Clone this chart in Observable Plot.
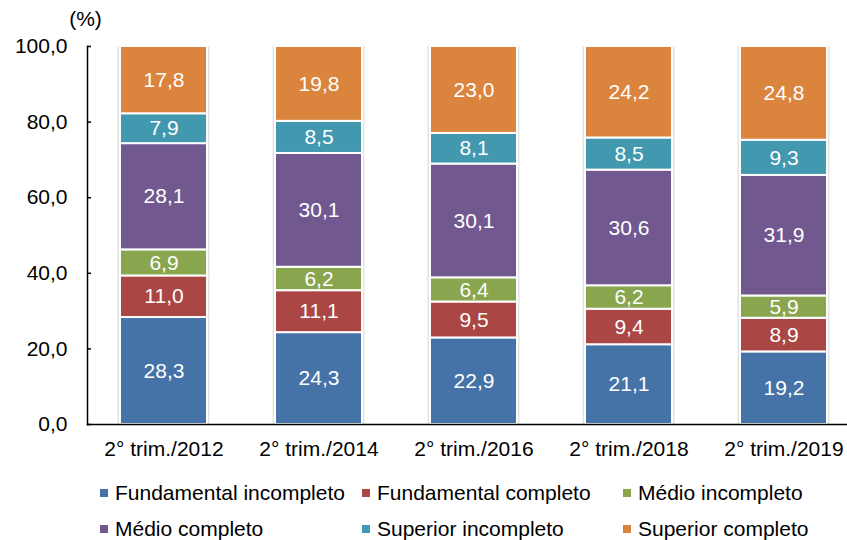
<!DOCTYPE html>
<html>
<head>
<meta charset="utf-8">
<script src="https://cdn.jsdelivr.net/npm/d3@7"></script>
<script src="https://cdn.jsdelivr.net/npm/@observablehq/plot@0.6"></script>
<style>
  body { margin: 0; background: #fff; font-family: "Liberation Sans", Arial, sans-serif; }
  #wrap { position: relative; width: 847px; height: 540px; overflow: hidden; }
  .leg { position: absolute; height: 24px; display: flex; align-items: center; font-size: 21px; color: #000; white-space: nowrap; }
  .sw { width: 8px; height: 8px; margin-right: 7px; }
</style>
</head>
<body>
<div id="wrap"></div>
<script>
const categories = ["2° trim./2012", "2° trim./2014", "2° trim./2016", "2° trim./2018", "2° trim./2019"];
const seriesNames = ["Fundamental incompleto", "Fundamental completo", "Médio incompleto", "Médio completo", "Superior incompleto", "Superior completo"];
const fundIncompleto = [28.3, 24.3, 22.9, 21.1, 19.2];
const fundCompleto = [11.0, 11.1, 9.5, 9.4, 8.9];
const medioIncompleto = [6.9, 6.2, 6.4, 6.2, 5.9];
const medioCompleto = [28.1, 30.1, 30.1, 30.6, 31.9];
const superiorIncompleto = [7.9, 8.5, 8.1, 8.5, 9.3];
const superiorCompleto = [17.8, 19.8, 23.0, 24.2, 24.8];
const colors = ["#4572A7", "#AA4643", "#89A54E", "#71588F", "#4198AF", "#DB843D"];
const yTicks = [0, 20, 40, 60, 80, 100];

const seriesValues = [fundIncompleto, fundCompleto, medioIncompleto, medioCompleto, superiorIncompleto, superiorCompleto];
const data = [];
seriesNames.forEach((s, si) => {
  categories.forEach((c, ci) => data.push({category: c, series: s, value: seriesValues[si][ci]}));
});
const fmt = v => v.toFixed(1).replace(".", ",");

const chart = Plot.plot({
  width: 847,
  height: 470,
  marginLeft: 87,
  marginRight: 0,
  marginTop: 46,
  marginBottom: 46,
  style: { fontFamily: "'Liberation Sans', Arial, sans-serif", fontSize: "21px", color: "#000", background: "transparent" },
  x: { domain: categories, range: [86, 861], paddingInner: 0.44, paddingOuter: 0.22, label: null },
  y: { domain: [0, 100], label: null },
  color: { domain: seriesNames, range: colors },
  marks: [
    Plot.barY(data, Plot.stackY({x: "category", y: "value", z: "series", fill: "#e4e4e4", insetLeft: -2.5, insetRight: -2.5})),
    Plot.barY(data, Plot.stackY({x: "category", y: "value", z: "series", fill: "series", stroke: "#fff", strokeWidth: 2, inset: 0})),
    Plot.text(data, Plot.stackY({x: "category", y: "value", z: "series", text: d => fmt(d.value), fill: "#fff", fontSize: 21})),
    Plot.frame({anchor: "left", stroke: "#000", strokeWidth: 1.5}),
    Plot.frame({anchor: "bottom", stroke: "#000", strokeWidth: 1.5}),
    Plot.axisY({ticks: yTicks, tickSize: 4, dx: 4, tickFormat: () => "", stroke: "#000", strokeWidth: 1.5}),
    Plot.axisY({ticks: yTicks, tickSize: 0, tickPadding: 20, tickFormat: fmt, fontSize: 21, fill: "#000", label: null}),
    Plot.axisX({tickSize: 0, tickPadding: 17, fontSize: 21, fill: "#000", label: null}),
    Plot.text(["(%)"], {frameAnchor: "top-left", dx: -2, dy: -21, fontSize: 21, fill: "#000", textAnchor: "middle", lineAnchor: "bottom"})
  ]
});
const wrap = document.getElementById("wrap");
wrap.appendChild(chart);

const legX = [100, 362, 623];
const legY = [493, 529];
seriesNames.forEach((s, i) => {
  const div = document.createElement("div");
  div.className = "leg";
  div.style.left = legX[i % 3] + "px";
  div.style.top = (legY[Math.floor(i / 3)] - 12) + "px";
  div.innerHTML = `<span class="sw" style="background:${colors[i]}"></span><span>${s}</span>`;
  wrap.appendChild(div);
});
</script>
</body>
</html>
